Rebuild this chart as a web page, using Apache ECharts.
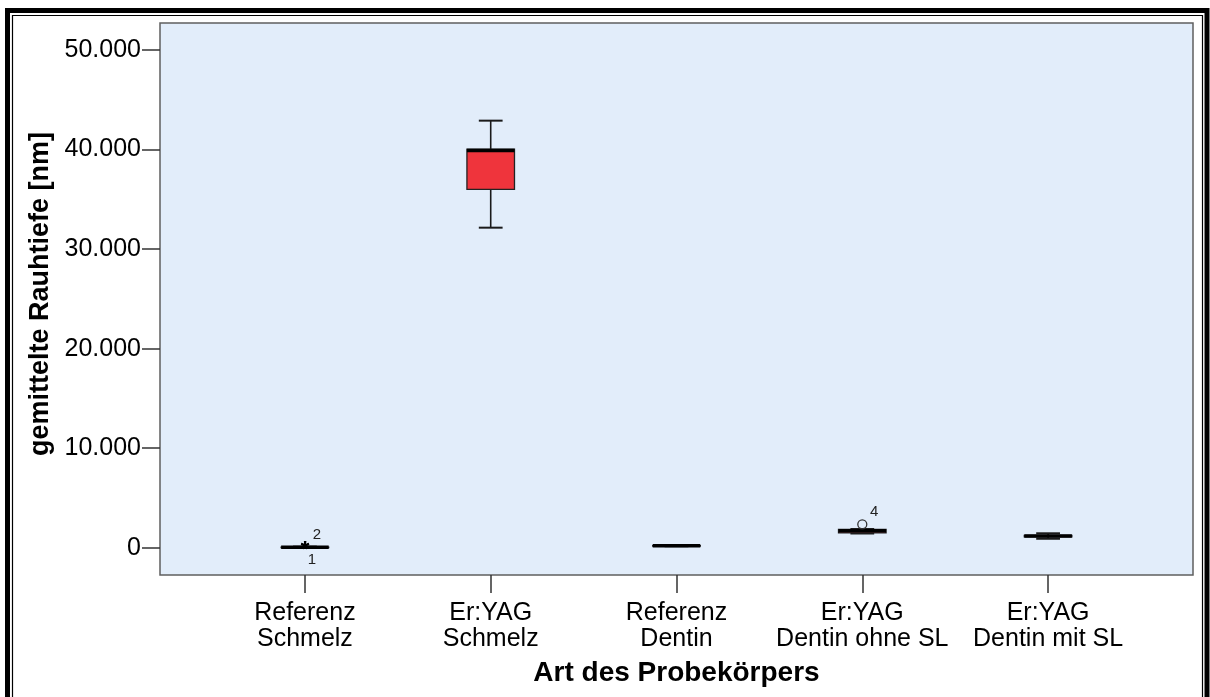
<!DOCTYPE html>
<html>
<head>
<meta charset="utf-8">
<script src="https://cdn.jsdelivr.net/npm/echarts@6/dist/echarts.min.js"></script>
<style>
html,body{margin:0;padding:0;background:#fff;}
#chart{width:1210px;height:697px;}
</style>
</head>
<body>
<div id="chart"></div>
<script>
// ---- data ----
const categories = ['Referenz\nSchmelz', 'Er:YAG\nSchmelz', 'Referenz\nDentin', 'Er:YAG\nDentin ohne SL', 'Er:YAG\nDentin mit SL'];
// five-number summaries [min, Q1, median, Q3, max] in nm
const boxMin    = [10,    32150, 150, 1430, 900];
const boxQ1     = [30,    36000, 180, 1500, 1100];
const boxMedian = [50,    39900, 200, 1700, 1175];
const boxQ3     = [70,    40050, 220, 1850, 1250];
const boxMax    = [110,   42900, 250, 1880, 1450];
// outliers
const outCategory = [0, 0, 3];
const outValue    = [60, 60, 2350];
const outKind     = ['extreme', 'extreme', 'outlier'];
const outLabel    = ['2', '1', '4'];
const yTicks = [0, 10000, 20000, 30000, 40000, 50000];
const yName = 'gemittelte Rauhtiefe [nm]';
const xName = 'Art des Probekörpers';

const FONT = "'Liberation Sans', Arial, sans-serif";
const boxData = categories.map((c, i) => [i, boxMin[i], boxQ1[i], boxMedian[i], boxQ3[i], boxMax[i]]);
const outData = outCategory.map((c, i) => [c, outValue[i], i]);

const chart = echarts.init(document.getElementById('chart'), null, {renderer: 'canvas'});

function fmtDE(v) {
  if (v === 0) return '0';
  return (v / 1000).toFixed(3);
}

const option = {
  backgroundColor: '#ffffff',
  animation: false,
  grid: {
    left: 160, top: 23, right: 17, bottom: 122,
    show: true, backgroundColor: '#E2EDFA', borderColor: '#5f5f5f', borderWidth: 1.5,
    containLabel: false
  },
  xAxis: {
    type: 'value', min: -0.78, max: 4.78,
    splitLine: {show: false},
    axisLine: {show: false, onZero: false},
    axisTick: {show: true, customValues: [0, 1, 2, 3, 4], length: 18, lineStyle: {color: '#333', width: 1.5}},
    axisLabel: {
      customValues: [0, 1, 2, 3, 4],
      formatter: v => categories[Math.round(v)],
      fontFamily: FONT, fontSize: 25, color: '#000', lineHeight: 26, margin: 25
    },
    name: xName, nameLocation: 'middle', nameGap: 84,
    nameTextStyle: {fontFamily: FONT, fontSize: 28, fontWeight: 'bold', color: '#000'}
  },
  yAxis: {
    type: 'value', min: -2740, max: 52710,
    splitLine: {show: false},
    axisLine: {show: false, onZero: false},
    axisTick: {show: true, customValues: yTicks, length: 18, lineStyle: {color: '#333', width: 1.5}},
    axisLabel: {
      customValues: yTicks, formatter: fmtDE,
      fontFamily: FONT, fontSize: 25, color: '#000', margin: 19
    },
    name: yName, nameLocation: 'middle', nameGap: 102, nameRotate: 90,
    nameTextStyle: {fontFamily: FONT, fontSize: 27, fontWeight: 'bold', color: '#000', padding: [0, 0, 0, 10]}
  },
  series: [
    {
      type: 'custom',
      clip: false,
      data: boxData,
      renderItem: function (params, api) {
        const x = api.value(0);
        const band = api.size([1, 0])[0];
        const bw = band * 0.256;
        const cw = bw * 0.5;
        const pMin = api.coord([x, api.value(1)]);
        const pQ1 = api.coord([x, api.value(2)]);
        const pMed = api.coord([x, api.value(3)]);
        const pQ3 = api.coord([x, api.value(4)]);
        const pMax = api.coord([x, api.value(5)]);
        const cx = pMin[0];
        const lineStyle = {stroke: '#1a1a1a', lineWidth: 1.6};
        return {
          type: 'group',
          children: [
            {type: 'line', shape: {x1: cx, y1: pMin[1], x2: cx, y2: pQ1[1]}, style: lineStyle},
            {type: 'line', shape: {x1: cx, y1: pQ3[1], x2: cx, y2: pMax[1]}, style: lineStyle},
            {type: 'line', shape: {x1: cx - cw / 2, y1: pMin[1], x2: cx + cw / 2, y2: pMin[1]}, style: {stroke: '#1a1a1a', lineWidth: 2}},
            {type: 'line', shape: {x1: cx - cw / 2, y1: pMax[1], x2: cx + cw / 2, y2: pMax[1]}, style: {stroke: '#1a1a1a', lineWidth: 2}},
            {type: 'rect', shape: {x: cx - bw / 2, y: pQ3[1], width: bw, height: Math.max(pQ1[1] - pQ3[1], 0.5)},
              style: {fill: '#EF343C', stroke: '#222', lineWidth: 1.3}},
            {type: 'line', shape: {x1: cx - bw / 2, y1: pMed[1], x2: cx + bw / 2, y2: pMed[1]}, style: {stroke: '#000', lineWidth: 3.5}}
          ]
        };
      }
    },
    {
      type: 'custom',
      clip: false,
      data: outData,
      renderItem: function (params, api) {
        const idx = api.value(2);
        const p = api.coord([api.value(0), api.value(1)]);
        // count earlier outliers at the same spot to alternate label placement
        let dup = 0;
        for (let j = 0; j < idx; j++) {
          if (outCategory[j] === outCategory[idx] && outValue[j] === outValue[idx]) dup++;
        }
        const children = [];
        if (outKind[idx] === 'extreme') {
          children.push({type: 'text', x: p[0], y: p[1] + 3,
            style: {text: '*', fontFamily: FONT, fontSize: 22, fontWeight: 'bold', fill: '#000', align: 'center', verticalAlign: 'middle'}});
        } else {
          children.push({type: 'circle', shape: {cx: p[0], cy: p[1], r: 4.5},
            style: {fill: 'none', stroke: '#333', lineWidth: 1.3}});
        }
        const lx = dup === 0 ? p[0] + 12 : p[0] + 7;
        const ly = dup === 0 ? p[1] - 12 : p[1] + 13;
        children.push({type: 'text', x: lx, y: ly,
          style: {text: outLabel[idx], fontFamily: FONT, fontSize: 15, fill: '#222', align: 'center', verticalAlign: 'middle'}});
        return {type: 'group', children: children};
      }
    }
  ],
  graphic: [
    {type: 'rect', shape: {x: 7.5, y: 10.5, width: 1199.5, height: 700}, style: {fill: 'none', stroke: '#000', lineWidth: 5}, silent: true},
    {type: 'rect', shape: {x: 12.5, y: 15.5, width: 1190, height: 700}, style: {fill: 'none', stroke: '#000', lineWidth: 1.2}, silent: true}
  ]
};
chart.setOption(option);
</script>
</body>
</html>
